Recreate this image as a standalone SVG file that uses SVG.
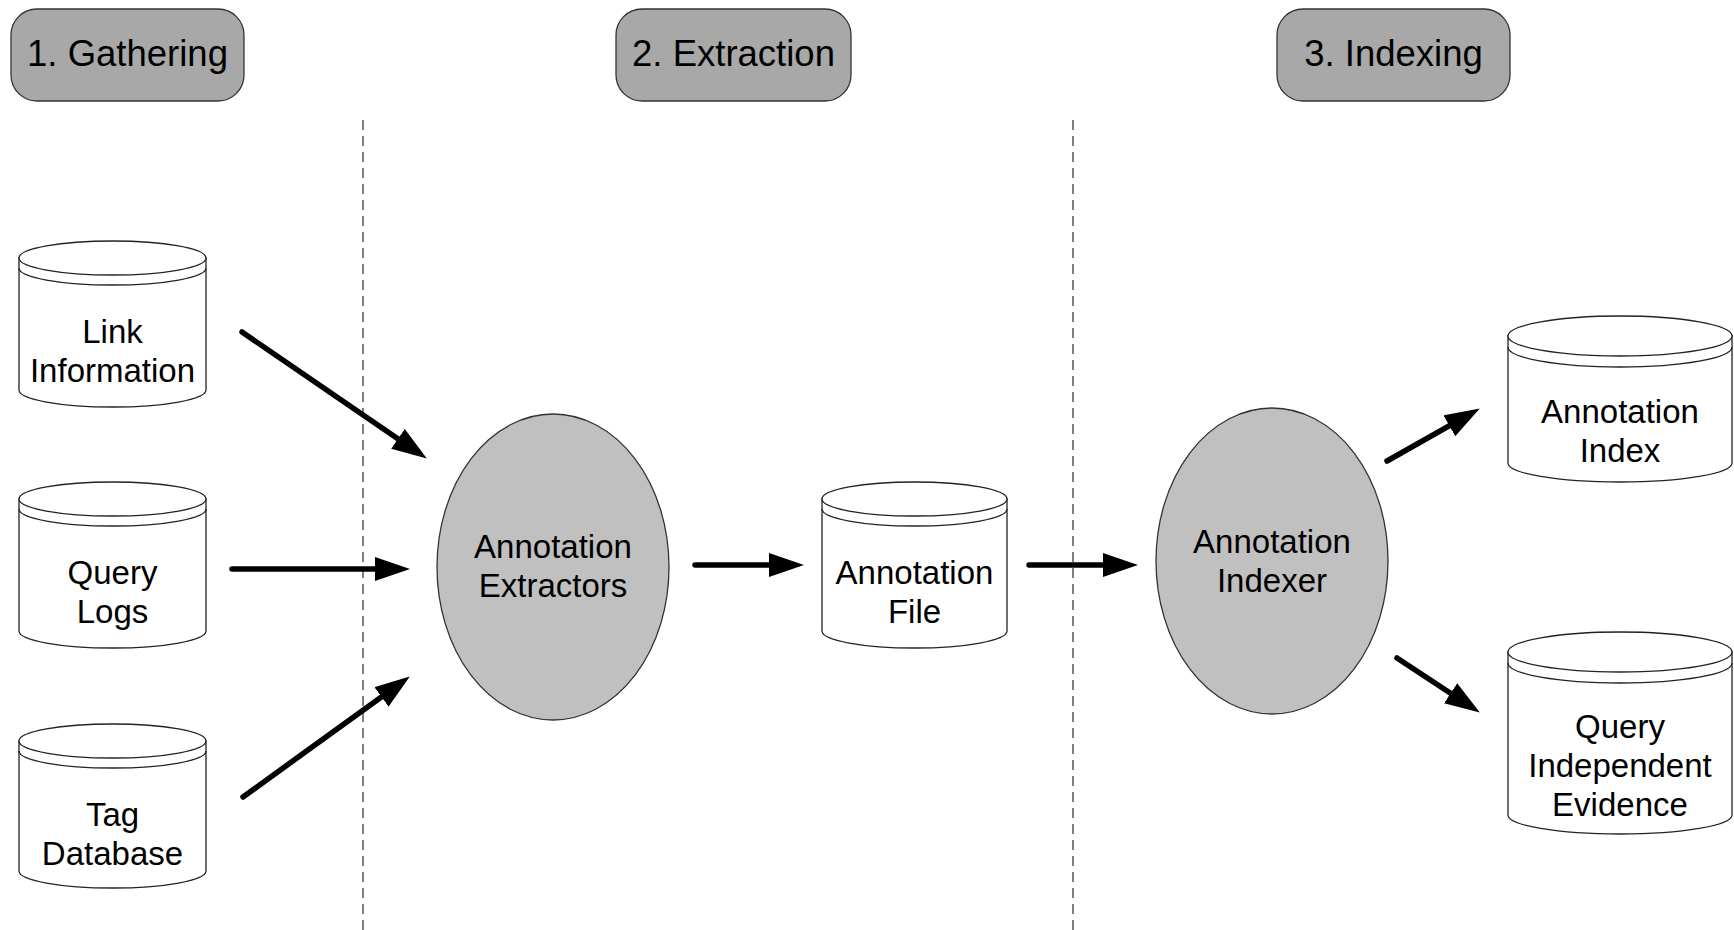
<svg xmlns="http://www.w3.org/2000/svg" width="1734" height="930" viewBox="0 0 1734 930">
<style>
.hdr{fill:#a8a8a8;stroke:#333;stroke-width:1.3}
.ell{fill:#c0c0c0;stroke:#333;stroke-width:1.3}
.cyl{fill:#fff;stroke:#222;stroke-width:1.3}
.cylline{fill:none;stroke:#222;stroke-width:1.3}
.sep{stroke:#555;stroke-width:1.5;stroke-dasharray:10 6;fill:none}
.arr{stroke:#000;stroke-width:5.5;stroke-linecap:round;fill:none;marker-end:url(#ah)}
text{font-family:"Liberation Sans",Arial,sans-serif;fill:#000;text-anchor:middle}
.ht{font-size:36.5px}
.nt{font-size:33px}
</style>
<defs>
<marker id="ah" markerUnits="userSpaceOnUse" markerWidth="40" markerHeight="26" refX="14" refY="12" orient="auto" viewBox="0 0 40 26">
<path d="M0,0 L35,12 L0,24 Z" fill="#000"/>
</marker>
</defs>
<rect width="1734" height="930" fill="#fff"/>

<g id="separators">
<line class="sep" x1="363" y1="120" x2="363" y2="930"/>
<line class="sep" x1="1073" y1="120" x2="1073" y2="930"/>
</g>

<g id="hdr-gathering">
<rect class="hdr" x="11" y="9" width="233" height="92" rx="26"/>
<text class="ht" x="127.5" y="66">1. Gathering</text>
</g>
<g id="hdr-extraction">
<rect class="hdr" x="616" y="9" width="235" height="92" rx="26"/>
<text class="ht" x="733.5" y="66">2. Extraction</text>
</g>
<g id="hdr-indexing">
<rect class="hdr" x="1277" y="9" width="233" height="92" rx="26"/>
<text class="ht" x="1393.5" y="66">3. Indexing</text>
</g>

<g id="link-information">
<path class="cyl" d="M19,258 L19,390 A93.5,17 0 0 0 206,390 L206,258 Z"/>
<ellipse class="cyl" cx="112.5" cy="258" rx="93.5" ry="17"/>
<path class="cylline" d="M19,268 A93.5,17 0 0 0 206,268"/>
<text class="nt" x="112.5" y="343">Link</text>
<text class="nt" x="112.5" y="382">Information</text>
</g>

<g id="query-logs">
<path class="cyl" d="M19,499 L19,631 A93.5,17 0 0 0 206,631 L206,499 Z"/>
<ellipse class="cyl" cx="112.5" cy="499" rx="93.5" ry="17"/>
<path class="cylline" d="M19,509 A93.5,17 0 0 0 206,509"/>
<text class="nt" x="112.5" y="584">Query</text>
<text class="nt" x="112.5" y="623">Logs</text>
</g>

<g id="tag-database">
<path class="cyl" d="M19,741 L19,871 A93.5,17 0 0 0 206,871 L206,741 Z"/>
<ellipse class="cyl" cx="112.5" cy="741" rx="93.5" ry="17"/>
<path class="cylline" d="M19,751 A93.5,17 0 0 0 206,751"/>
<text class="nt" x="112.5" y="826">Tag</text>
<text class="nt" x="112.5" y="865">Database</text>
</g>

<g id="annotation-extractors">
<ellipse class="ell" cx="553" cy="567" rx="116" ry="153"/>
<text class="nt" x="553" y="558">Annotation</text>
<text class="nt" x="553" y="597">Extractors</text>
</g>

<g id="annotation-file">
<path class="cyl" d="M822,499 L822,631 A92.5,17 0 0 0 1007,631 L1007,499 Z"/>
<ellipse class="cyl" cx="914.5" cy="499" rx="92.5" ry="17"/>
<path class="cylline" d="M822,509 A92.5,17 0 0 0 1007,509"/>
<text class="nt" x="914.5" y="584">Annotation</text>
<text class="nt" x="914.5" y="623">File</text>
</g>

<g id="annotation-indexer">
<ellipse class="ell" cx="1272" cy="561" rx="116" ry="153"/>
<text class="nt" x="1272" y="553">Annotation</text>
<text class="nt" x="1272" y="592">Indexer</text>
</g>

<g id="annotation-index">
<path class="cyl" d="M1508,336 L1508,463 A112,19 0 0 0 1732,463 L1732,336 Z"/>
<ellipse class="cyl" cx="1620" cy="336" rx="112" ry="20"/>
<path class="cylline" d="M1508,347 A112,20 0 0 0 1732,347"/>
<text class="nt" x="1620" y="423">Annotation</text>
<text class="nt" x="1620" y="462">Index</text>
</g>

<g id="query-independent-evidence">
<path class="cyl" d="M1508,652 L1508,815 A112,19 0 0 0 1732,815 L1732,652 Z"/>
<ellipse class="cyl" cx="1620" cy="652" rx="112" ry="20"/>
<path class="cylline" d="M1508,663 A112,20 0 0 0 1732,663"/>
<text class="nt" x="1620" y="738">Query</text>
<text class="nt" x="1620" y="777">Independent</text>
<text class="nt" x="1620" y="816">Evidence</text>
</g>

<g id="connectors">
<line class="arr" x1="242" y1="332" x2="409.5" y2="446.7"/>
<line class="arr" x1="232" y1="569" x2="389" y2="569"/>
<line class="arr" x1="243" y1="797" x2="392.8" y2="688.7"/>
<line class="arr" x1="695" y1="565" x2="783" y2="565"/>
<line class="arr" x1="1029" y1="565" x2="1117" y2="565"/>
<line class="arr" x1="1387" y1="461" x2="1461.5" y2="418.8"/>
<line class="arr" x1="1397" y1="658" x2="1462.3" y2="701"/>
</g>
</svg>
